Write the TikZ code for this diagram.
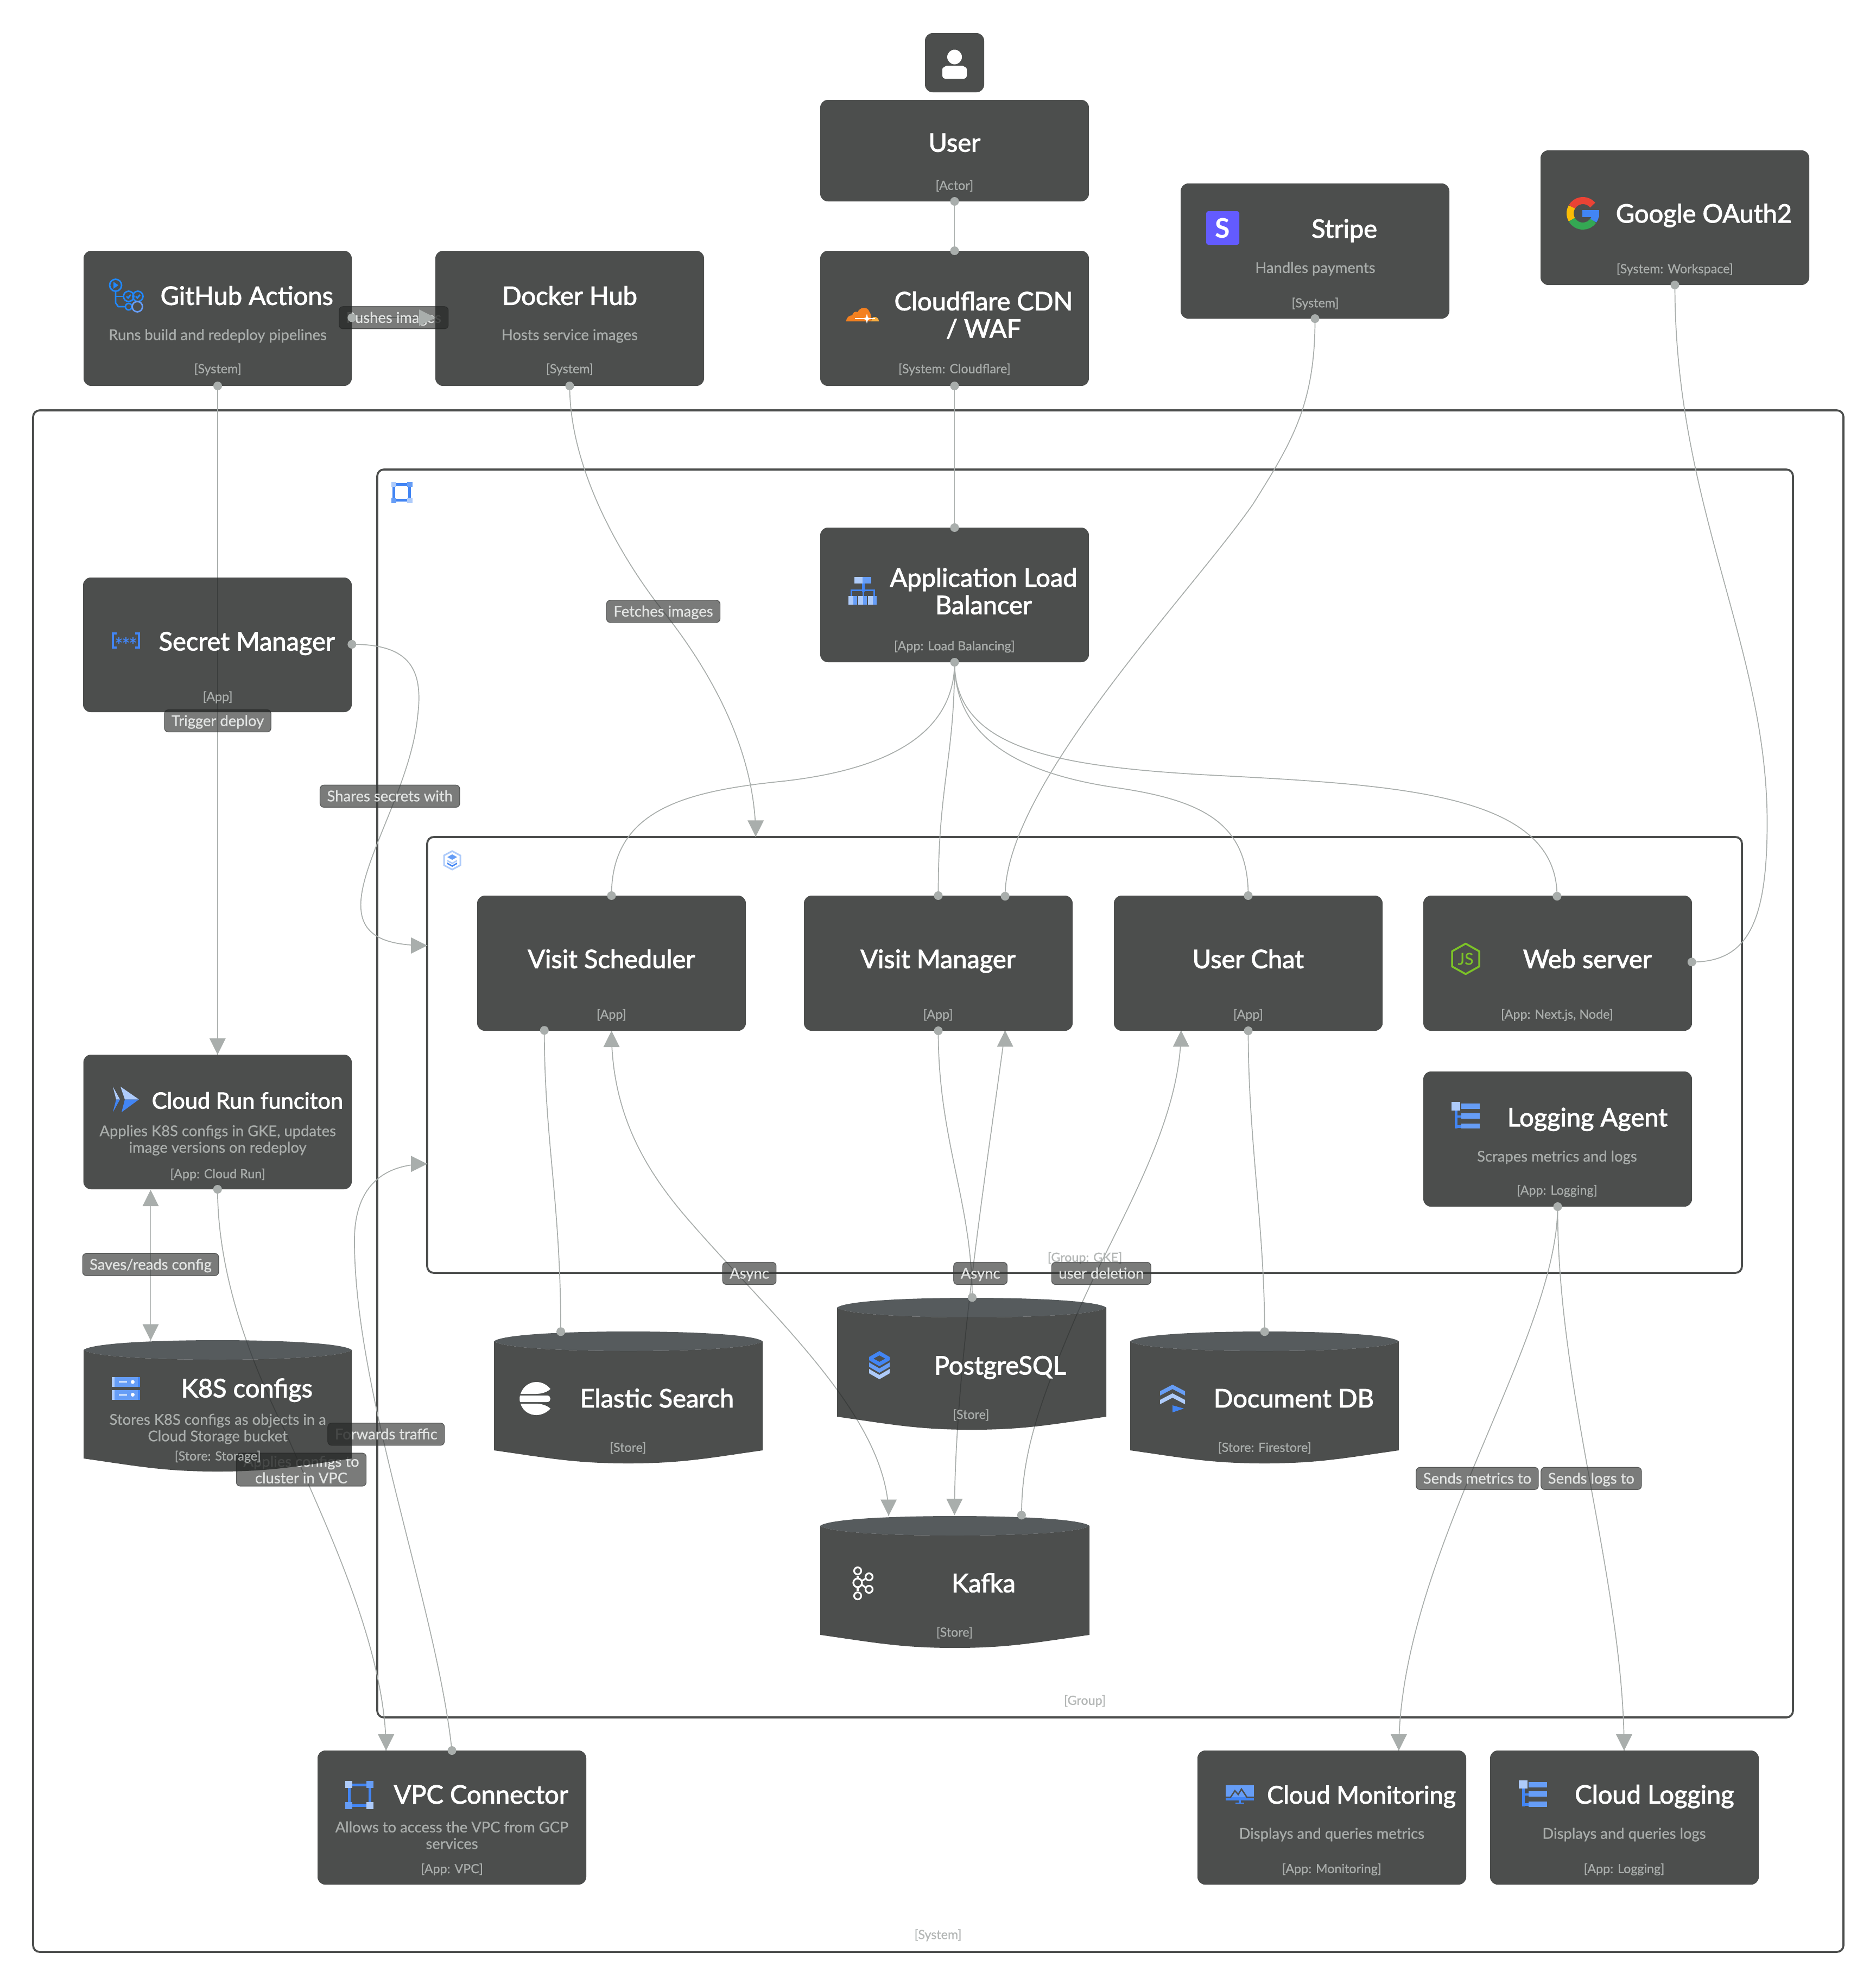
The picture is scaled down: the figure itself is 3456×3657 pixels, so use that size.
\documentclass[tikz,border=0pt]{standalone}
\usepackage{fontspec}
\setmainfont{Lato}
\newfontfamily\titlef[FakeBold=2.2]{Lato}
\newfontfamily\subf[FakeBold=0.8]{Lato}
\usetikzlibrary{calc}
\pgfdeclarelayer{groupl}\pgfdeclarelayer{under}\pgfdeclarelayer{top}\pgfsetlayers{groupl,under,main,top}
\definecolor{boxc}{HTML}{212322}
\definecolor{toptint}{HTML}{2E3336}
\definecolor{wirec}{HTML}{A9AEAC}
\definecolor{labc}{HTML}{343635}
\definecolor{labt}{HTML}{E2E4E3}
\definecolor{subc}{HTML}{A9ADAB}
\definecolor{grpt}{HTML}{B4B7B6}
\definecolor{gd}{HTML}{4285F4}
\definecolor{gm}{HTML}{669DF6}
\definecolor{gl}{HTML}{AECBFA}
\definecolor{panelc}{HTML}{4C4E4D}
\definecolor{stripep}{HTML}{635BFF}
\definecolor{ghb}{HTML}{2088FF}
\definecolor{jsg}{HTML}{7CC327}
\definecolor{cfo}{HTML}{F38020}
\definecolor{cfl}{HTML}{FAAE40}
\definecolor{gr}{HTML}{EA4335}
\definecolor{gy}{HTML}{FBBC05}
\definecolor{gg}{HTML}{34A853}
\tikzset{
 disp/.style={x=2.332pt,y=-2.332pt},
 boxn/.style={rectangle,rounded corners=14pt,fill=boxc,fill opacity=.805,inner sep=0pt,outer sep=0pt},
 cyln/.style={rectangle,inner sep=0pt,outer sep=0pt},
 grpn/.style={rectangle,rounded corners=12pt,draw=boxc,draw opacity=.805,line width=3.6pt,inner sep=0pt,outer sep=0pt},
 ttl2/.style={text=white,align=center,inner sep=0pt,font=\titlef\fontsize{47}{50.5}\selectfont},
 ttl/.style={ttl2,text height=32pt,text depth=0pt},
 dsc2/.style={text=subc,align=center,inner sep=0pt,yshift=-2pt,font=\subf\fontsize{27.4}{30.5}\selectfont},
 dsc/.style={dsc2,yshift=0.5pt,text height=20pt,text depth=6pt},
 capn/.style={text=subc,align=center,inner sep=0pt,yshift=-2pt,font=\subf\fontsize{23.3}{26}\selectfont},
 grpcap/.style={text=grpt,align=center,inner sep=0pt,yshift=-2pt,font=\subf\fontsize{23.3}{26}\selectfont},
 lab2/.style={rectangle,rounded corners=7pt,fill=labc,fill opacity=.654,draw=labc,draw opacity=.7,text opacity=1,line width=1.2pt,text=labt,align=center,inner xsep=13pt,inner ysep=5pt,minimum height=41pt,font=\subf\fontsize{27.4}{30.5}\selectfont},
 lab/.style={lab2,text height=25pt,text depth=6pt,inner ysep=4pt},
 wire/.style={draw=wirec,line width=1.7pt},
 mk/.style={fill=wirec},
}
\newcommand{\bxn}[5]{\pgfmathsetmacro\mycx{(#2+#4)/2}\pgfmathsetmacro\mycy{(#3+#5)/2}\pgfmathsetmacro\myw{#4-#2}\pgfmathsetmacro\myh{#5-#3}\node[boxn,minimum width=\myw pt,minimum height=\myh pt] (#1) at (\mycx,\mycy) {};}
\newcommand{\grpb}[5]{\pgfmathsetmacro\mycx{(#2+#4)/2}\pgfmathsetmacro\mycy{(#3+#5)/2}\pgfmathsetmacro\myw{#4-#2}\pgfmathsetmacro\myh{#5-#3}\node[grpn,minimum width=\myw pt,minimum height=\myh pt] (#1) at (\mycx,\mycy) {};}
\newcommand{\cyl}[5]{\pgfmathsetmacro\mycx{(#2+#4)/2}\pgfmathsetmacro\mycy{(#3+#5)/2}\pgfmathsetmacro\myw{#4-#2}\pgfmathsetmacro\myh{#5-#3}%
 \pgfmathsetmacro\xa{#2+.03*\myw}\pgfmathsetmacro\xb{#2+.25*\myw}\pgfmathsetmacro\xc{#4-.25*\myw}\pgfmathsetmacro\xd{#4-.03*\myw}%
 \pgfmathsetmacro\ys{#3+18}\pgfmathsetmacro\yu{#3+6}\pgfmathsetmacro\yl{#3+30}\pgfmathsetmacro\ye{#3+36}\pgfmathsetmacro\yk{#5-24}\pgfmathsetmacro\ym{#5-10}%
 \pgfmathsetmacro\xe{#2+.2*\myw}\pgfmathsetmacro\xf{\mycx-.2*\myw}\pgfmathsetmacro\xg{\mycx+.2*\myw}\pgfmathsetmacro\xh{#4-.2*\myw}%
 \node[cyln,minimum width=\myw pt,minimum height=\myh pt] (#1) at (\mycx,\mycy) {};%
 \fill[boxc,fill opacity=.805] (#2,\ys) .. controls (\xa,\yl) and (\xb,\ye) .. (\mycx,\ye) .. controls (\xc,\ye) and (\xd,\yl) .. (#4,\ys) -- (#4,\yk) .. controls (\xh,\ym) and (\xg,#5) .. (\mycx,#5) .. controls (\xf,#5) and (\xe,\ym) .. (#2,\yk) -- cycle;%
 \fill[toptint,fill opacity=.805] (#2,\ys) .. controls (\xa,\yu) and (\xb,#3) .. (\mycx,#3) .. controls (\xc,#3) and (\xd,\yu) .. (#4,\ys) .. controls (\xd,\yl) and (\xc,\ye) .. (\mycx,\ye) .. controls (\xb,\ye) and (\xa,\yl) .. cycle;}
\newcommand{\arw}[2]{\fill[mk,shift={(#1)},rotate=#2] (0pt,0pt)--(-30pt,15pt)--(-30pt,-15pt)--cycle;}
\newcommand{\dotm}[1]{\fill[mk] (#1) circle (8pt);}
\begin{document}
\begin{tikzpicture}[x=1pt,y=-1pt]
\useasboundingbox (0,0) rectangle (3456,3657);
\begin{pgfonlayer}{groupl}\fill[white] (0,0) rectangle (3456,3657);
% groups
\grpb{sys}{61}{756}{3396}{3596}
\grpb{grp}{695}{865}{3303}{3164}
\grpb{gke}{787}{1542}{3209}{2345}
\begin{scope}[disp]
\node[grpcap] (cSys) at (741,1528) {[System]};
\node[grpcap] (cGrp) at (857,1343) {[Group]};
\node[grpcap] (cGke) at (857,993) {[Group: GKE]};
\end{scope}
\end{pgfonlayer}
% boxes
\node[boxn,minimum width=109pt,minimum height=109pt] (actor) at (1758.5,115.5) {};
\bxn{user}{1511}{184}{2006}{371}
\bxn{gh}{154}{462}{648}{711}
\bxn{dock}{802}{462}{1297}{711}
\bxn{cf}{1511}{462}{2006}{711}
\bxn{stripe}{2175}{338}{2670}{587}
\bxn{goog}{2838}{277}{3333}{525}
\bxn{alb}{1511}{972}{2006}{1220}
\bxn{sec}{153}{1064}{648}{1312}
\bxn{vs}{879}{1650}{1374}{1899}
\bxn{vm}{1481}{1650}{1976}{1899}
\bxn{uc}{2052}{1650}{2547}{1899}
\bxn{web}{2622}{1650}{3117}{1899}
\bxn{la}{2622}{1974}{3117}{2223}
\bxn{run}{153.6}{1943}{648}{2191}
\cyl{k8s}{154}{2469}{648}{2711}
\cyl{es}{910}{2453}{1405}{2696}
\cyl{pg}{1542}{2391}{2038}{2634}
\cyl{doc}{2082}{2453}{2577}{2696}
\cyl{kaf}{1511}{2793}{2007}{3036}
\bxn{vpc}{585}{3225}{1080}{3472}
\bxn{mon}{2206}{3225}{2701}{3472}
\bxn{log}{2745}{3225}{3240}{3472}
% text
\begin{scope}[disp]
\node[ttl] (tUser) at (754,113) {User};
\node[capn] (cUser) at (754,146) {[Actor]};
\node[ttl] (tGh) at (195,234) {GitHub Actions};
\node[dsc] (dGh) at (172,265) {Runs build and redeploy pipelines};
\node[capn] (cGh) at (172,291) {[System]};
\node[ttl] (tDock) at (450,234) {Docker Hub};
\node[dsc] (dDock) at (450,265) {Hosts service images};
\node[capn] (cDock) at (450,291) {[System]};
\node[ttl2] (tCf) at (777,249) {Cloudflare CDN\\/ WAF};
\node[capn] (cCf) at (754,291) {[System: Cloudflare]};
\node[ttl] (tStripe) at (1062,181) {Stripe};
\node[dsc] (dStripe) at (1039,212) {Handles payments};
\node[capn] (cStripe) at (1039,239) {[System]};
\node[ttl] (tGoog) at (1346,169) {Google OAuth2};
\node[capn] (cGoog) at (1323,212) {[System: Workspace]};
\node[ttl2] (tAlb) at (777,467) {Application Load\\Balancer};
\node[capn] (cAlb) at (754,510) {[App: Load Balancing]};
\node[ttl] (tSec) at (195,507) {Secret Manager};
\node[capn] (cSec) at (172,550) {[App]};
\node[ttl] (tVs) at (483,758) {Visit Scheduler};
\node[capn] (cVs) at (483,801) {[App]};
\node[ttl] (tVm) at (741,758) {Visit Manager};
\node[capn] (cVm) at (741,801) {[App]};
\node[ttl] (tUc) at (986,758) {User Chat};
\node[capn] (cUc) at (986,801) {[App]};
\node[ttl] (tWeb) at (1254,758) {Web server};
\node[capn] (cWeb) at (1230,801) {[App: Next.js, Node]};
\node[ttl] (tLa) at (1254,883) {Logging Agent};
\node[dsc] (dLa) at (1230,914) {Scrapes metrics and logs};
\node[capn] (cLa) at (1230,940) {[App: Logging]};
\node[ttl,font=\titlef\fontsize{41.5}{45}\selectfont] (tRun) at (195.5,869) {Cloud Run funciton};
\node[dsc2] (dRun) at (172,900) {Applies K8S configs in GKE, updates\\image versions on redeploy};
\node[capn] (cRun) at (172,927) {[App: Cloud Run]};
\node[ttl] (tK8s) at (195,1097) {K8S configs};
\node[dsc2] (dK8s) at (172,1128) {Stores K8S configs as objects in a\\Cloud Storage bucket};
\node[capn] (cK8s) at (172,1150) {[Store: Storage]};
\node[ttl] (tEs) at (519,1105) {Elastic Search};
\node[capn] (cEs) at (496,1143) {[Store]};
\node[ttl] (tPg) at (790,1079) {PostgreSQL};
\node[capn] (cPg) at (767,1117) {[Store]};
\node[ttl] (tDoc) at (1022,1105) {Document DB};
\node[capn] (cDoc) at (999,1143) {[Store: Firestore]};
\node[ttl] (tKaf) at (777,1251) {Kafka};
\node[capn] (cKaf) at (754,1289) {[Store]};
\node[ttl] (tVpc) at (380,1418) {VPC Connector};
\node[dsc2] (dVpc) at (357,1449) {Allows to access the VPC from GCP\\services};
\node[capn] (cVpc) at (357,1476) {[App: VPC]};
\node[ttl,font=\titlef\fontsize{45}{50}\selectfont] (tMon) at (1075.5,1418) {Cloud Monitoring};
\node[dsc] (dMon) at (1052,1449) {Displays and queries metrics};
\node[capn] (cMon) at (1052,1476) {[App: Monitoring]};
\node[ttl] (tLog) at (1307,1418) {Cloud Logging};
\node[dsc] (dLog) at (1283,1449) {Displays and queries logs};
\node[capn] (cLog) at (1283,1476) {[App: Logging]};
% attach points
\coordinate (p2a) at (278,251);
\coordinate (p2b) at (344,251);
\coordinate (secR) at (278,509);
\coordinate (gkeL1) at (337.5,747);
\coordinate (gkeL2) at (337.5,919.5);
\coordinate (gkeT) at (597,661);
\coordinate (vmT2) at (794,708);
\coordinate (webR) at (1336.5,760);
\coordinate (webT) at (1230,708);
\coordinate (vsB) at (430,814);
\coordinate (esT) at (443,1052);
\coordinate (kafA) at (702,1197.5);
\coordinate (pgT) at (768,1025);
\coordinate (vmB2) at (794,814);
\coordinate (kafB) at (754,1197);
\coordinate (ucB1) at (933,814);
\coordinate (kafC) at (807,1197);
\coordinate (docT) at (999,1052);
\coordinate (monT) at (1105,1383);
\coordinate (logT) at (1283,1383);
\coordinate (runB2) at (119,940);
\coordinate (k8sT2) at (119,1059);
\coordinate (vpcT1) at (305,1383);
\end{scope}
% wires and labels
\begin{pgfonlayer}{under}
\begin{scope}[disp]
\draw[wire] (user.south) -- (cf.north);
\draw[wire] (p2a) -- (p2b);
\draw[wire] (gh.south) -- (run.north);
\draw[wire] (dock.south) .. controls (450,370) and (490,440) .. (524,483) .. controls (558,526) and (597,590) .. (gkeT);
\draw[wire] (cf.south) -- (alb.north);
\draw[wire] (alb.south) .. controls (754,590) and (680,610) .. (620,617) .. controls (540,625) and (483,640) .. (vs.north);
\draw[wire] (alb.south) .. controls (754,600) and (741,620) .. (vm.north);
\draw[wire] (alb.south) .. controls (754,580) and (800,610) .. (880,622) .. controls (950,632) and (986,650) .. (uc.north);
\draw[wire] (alb.south) .. controls (754,590) and (830,605) .. (950,612) .. controls (1100,620) and (1230,625) .. (webT);
\draw[wire] (stripe.south) .. controls (1039,320) and (1020,350) .. (990,398) .. controls (940,470) and (794,620) .. (vmT2);
\draw[wire] (goog.south) .. controls (1323,400) and (1396,510) .. (1396,650) .. controls (1396,730) and (1380,760) .. (webR);
\draw[wire] (secR) .. controls (320,509) and (335,525) .. (330,565) .. controls (325,620) and (285,680) .. (285,715) .. controls (285,740) and (305,747) .. (gkeL1);
\draw[wire] (vsB) .. controls (430,900) and (443,950) .. (esT);
\draw[wire] (vs.south) .. controls (483,880) and (510,925) .. (545,965) .. controls (610,1040) and (702,1120) .. (kafA);
\draw[wire] (vm.south) .. controls (741,900) and (768,950) .. (pgT);
\draw[wire] (vmB2) .. controls (780,920) and (754,1080) .. (kafB);
\draw[wire] (ucB1) .. controls (933,890) and (880,970) .. (850,1040) .. controls (820,1110) and (807,1150) .. (kafC);
\draw[wire] (uc.south) .. controls (986,900) and (999,970) .. (docT);
\draw[wire] (la.south) .. controls (1230,1060) and (1105,1230) .. (monT);
\draw[wire] (la.south) .. controls (1230,1100) and (1283,1250) .. (logT);
\draw[wire] (runB2) -- (k8sT2);
\draw[wire] (run.south) .. controls (172,1010) and (200,1080) .. (225,1130) .. controls (255,1200) and (305,1300) .. (vpcT1);
\draw[wire] (vpc.north) .. controls (345,1270) and (280,1100) .. (280,980) .. controls (280,940) and (300,919.5) .. (gkeL2);
\node[lab] (lPush) at (311,251) {Pushes images};
\node[lab] (lTrig) at (172,569.5) {Trigger deploy};
\node[lab] (lFetch) at (524,483) {Fetches images};
\node[lab] (lShare) at (308,629) {Shares secrets with};
\node[lab] (lSave) at (119,999) {Saves/reads config};
\node[lab] (lFwd) at (305,1133) {Forwards traffic};
\node[lab2] (lApply) at (238,1161) {Applies configs to\\cluster in VPC};
\node[lab] (lAs1) at (592,1006) {Async};
\node[lab] (lAs2) at (774.5,1006) {Async};
\node[lab] (lDel) at (870,1006) {user deletion};
\node[lab] (lMet) at (1167,1168) {Sends metrics to};
\node[lab] (lLogs) at (1257,1168) {Sends logs to};
\end{scope}
\end{pgfonlayer}
% markers and icons
\begin{pgfonlayer}{top}
\dotm{user.south}\dotm{cf.north}
\dotm{p2a}\arw{p2b}{0}
\dotm{gh.south}\arw{run.north}{-90}
\dotm{dock.south}\arw{gkeT}{-90}
\dotm{cf.south}\dotm{alb.north}
\dotm{alb.south}\dotm{vs.north}\dotm{vm.north}\dotm{uc.north}\dotm{webT}
\dotm{stripe.south}\dotm{vmT2}
\dotm{goog.south}\dotm{webR}
\dotm{secR}\arw{gkeL1}{0}
\dotm{vsB}\dotm{esT}
\arw{vs.south}{90}\arw{kafA}{-90}
\dotm{vm.south}\dotm{pgT}
\arw{vmB2}{90}\arw{kafB}{-90}
\arw{ucB1}{90}\dotm{kafC}
\dotm{uc.south}\dotm{docT}
\dotm{la.south}\arw{monT}{-90}\arw{logT}{-90}
\arw{runB2}{90}\arw{k8sT2}{-90}
\dotm{run.south}\arw{vpcT1}{-90}
\dotm{vpc.north}\arw{gkeL2}{0}
% actor icon
\fill[white] (1758.5,105) circle (13.5pt);
\fill[white,rounded corners=5pt] (1736,145) -- (1736,132) .. controls (1736,124) and (1745,121) .. (1749,121) -- (1768,121) .. controls (1772,121) and (1781,124) .. (1781,132) -- (1781,145) -- cycle;
% github actions icon
\begin{scope}[line width=2.8pt]
\draw[draw=ghb] (213,525.5) circle (11pt);
\fill[ghb] (209,519) -- (218,525.5) -- (209,532) -- cycle;
\draw[draw=ghb] (237,546) circle (9.5pt);
\draw[draw=ghb] (254,546) circle (9.5pt);
\draw[draw=ghb] (237,565) circle (6pt);
\draw[draw=gm] (253,565) circle (9.5pt);
\draw[draw=ghb] (213,537) -- (213,558) -- (218,565) -- (231,565);
\draw[draw=ghb] (213,546) -- (227,546);
\draw[draw=ghb] (233,546) -- (236,549) -- (241,543);
\draw[draw=ghb] (250,546) -- (253,549) -- (258,543);
\end{scope}
% cloudflare icon
\fill[cfo] (1559,592) .. controls (1559,584) and (1565,581) .. (1570,581) .. controls (1571,575) and (1576,573) .. (1580,575) .. controls (1583,567) and (1597,562) .. (1602,575) .. controls (1605,580) and (1606,585) .. (1605,592) -- cycle;
\fill[cfl] (1605,592) .. controls (1606,585) and (1608,584) .. (1612,584) .. controls (1617,584) and (1619,589) .. (1619,592) -- cycle;
\draw[white,line width=1.3pt] (1575,587) -- (1612,587);
\fill[white] (1597,578) -- (1599,585) -- (1606,587) -- (1599,589) -- (1597,596) -- (1595,589) -- (1588,587) -- (1595,585) -- cycle;
% stripe icon
\fill[stripep,rounded corners=4pt] (2222,389) rectangle (2283,451);
\node[text=white,inner sep=0pt,font=\bfseries\fontsize{50}{50}\selectfont] (iS) at (2252.5,420) {S};
% google icon
\begin{scope}[shift={(2916,393)},x=1pt,y=1pt,line width=13pt]
\draw[color=gr] (40:23.5pt) arc[start angle=40,end angle=150,radius=23.5pt];
\draw[color=gy] (150:23.5pt) arc[start angle=150,end angle=210,radius=23.5pt];
\draw[color=gg] (210:23.5pt) arc[start angle=210,end angle=325,radius=23.5pt];
\draw[color=gd] (325:23.5pt) arc[start angle=325,end angle=360,radius=23.5pt];
\fill[gd] (-1,6.5) rectangle (30,-6.5);
\end{scope}
% ALB icon
\begin{scope}[shift={(1589,1087)}]
\fill[gd] (-1.5,-12) rectangle (3.5,3);
\draw[gd,line width=3pt] (-21,11) -- (-21,0) -- (21,0) -- (21,11);
\draw[gd,line width=3pt] (1,0) -- (1,11);
\fill[gl] (-15.5,-24) rectangle (0,-12);
\fill[gm] (0,-24) rectangle (15.5,-12);
\foreach \bxx in {-26,-8,10}{\fill[gl] (\bxx,11) rectangle ++(9,16);\fill[gm] (\bxx+9,11) rectangle ++(7,16);}
\end{scope}
% secret icon
\begin{scope}[line width=4pt]
\draw[draw=gd] (215,1167) -- (208,1167) -- (208,1193) -- (215,1193);
\draw[draw=gd] (249,1167) -- (256,1167) -- (256,1193) -- (249,1193);
\end{scope}
\foreach \sx in {219,232,245}{\foreach \sa in {90,30,150}{\draw[gd,line width=1.7pt] (\sx,1180) ++(\sa:-6pt) -- ++(\sa:12pt);}}
% vpc icons
\foreach \vx/\vy/\vs in {740/907/.75,662/3307/1}{
\begin{scope}[shift={(\vx,\vy)},scale=\vs]
\draw[gd,line width=5pt] (-19,-19) rectangle (19,19);
\fill[gl] (-26,-26) rectangle (-13,-13);
\fill[gm] (13,-26) rectangle (26,-13);
\fill[gm] (-26,13) rectangle (-13,26);
\fill[gl] (13,13) rectangle (26,26);
\end{scope}}
% gke icon
\begin{scope}[shift={(833,1585)}]
\draw[gl,line width=3pt] (0,-17) -- (15,-9) -- (15,9) -- (0,17) -- (-15,9) -- (-15,-9) -- cycle;
\fill[gm] (0,-11) -- (9,-6) -- (0,-1) -- (-9,-6) -- cycle;
\fill[gl] (-9,-1) -- (0,4) -- (9,-1) -- (9,2) -- (0,7) -- (-9,2) -- cycle;
\fill[gd] (-9,4) -- (0,9) -- (9,4) -- (9,7) -- (0,12) -- (-9,7) -- cycle;
\end{scope}
% js icon
\begin{scope}[shift={(2700,1766.5)}]
\draw[jsg,line width=3.5pt,line join=round] (0,-28) -- (25,-14) -- (25,14) -- (0,28) -- (-25,14) -- (-25,-14) -- cycle;
\node[text=jsg,inner sep=0pt,font=\subf\fontsize{30}{30}\selectfont] (iJs) at (0,0) {JS};
\end{scope}
% logging icons
\foreach \lx/\ly in {2700/2054.5,2824/3304}{
\begin{scope}[shift={(\lx,\ly)}]
\fill[gd] (-20.5,-9) rectangle (-15,24);
\fill[gd] (-20.5,0) rectangle (-8,4);
\fill[gd] (-20.5,18) rectangle (-8,23);
\fill[gl] (-26,-24.5) rectangle (-10,-9);
\fill[gm] (-8,-21.5) rectangle (26,-11.5);
\fill[gm] (-8,-3.6) rectangle (26,6);
\fill[gm] (-8,15) rectangle (26,24.5);
\end{scope}}
% cloud run icon
\begin{scope}[shift={(232,2025.5)}]
\fill[gl] (-24,-23.5) -- (-11,0) -- (-18,0) -- cycle;
\fill[gd] (-11,0) -- (-24,23.5) -- (-18,0) -- cycle;
\fill[gl] (-10,-23.5) -- (24,0) -- (-2,0) -- cycle;
\fill[gd] (24,0) -- (-8,23.5) -- (-2,0) -- cycle;
\end{scope}
% storage icon
\begin{scope}[shift={(231.5,2557.5)}]
\foreach \ry in {-20.5,3}{
\fill[gm] (-26,\ry) rectangle (26,\ry+18);
\fill[gl] (-26,\ry) rectangle (-21,\ry+18);
\fill[gd] (22,\ry) rectangle (26,\ry+18);
\fill[white] (-13,\ry+8) rectangle (2,\ry+10);
\fill[white] (13,\ry+9) circle (3.5pt);}
\end{scope}
% elastic icon
\begin{scope}[shift={(986,2576)}]
\fill[white] (-27,-8) .. controls (-22,-24) and (-8,-30) .. (2,-30) .. controls (12,-30) and (22,-25) .. (28,-17) .. controls (20,-10) and (10,-8) .. (0,-8) -- cycle;
\fill[white] (-28,-5) -- (22,-5) .. controls (30,-5) and (30,7) .. (22,7) -- (-28,7) .. controls (-29,3) and (-29,-1) .. (-28,-5) -- cycle;
\fill[white] (-27,10) -- (0,10) .. controls (10,10) and (20,12) .. (28,19) .. controls (22,26) and (12,31) .. (2,31) .. controls (-8,31) and (-22,26) .. (-27,10) -- cycle;
\end{scope}
% postgres icon
\begin{scope}[shift={(1620,2515)}]
\fill[gd,even odd rule] (0,-26) -- (19,-15) -- (19,-9) -- (0,2) -- (-19,-9) -- (-19,-15) -- cycle (0,-18) -- (11,-12) -- (0,-6) -- (-11,-12) -- cycle;
\fill[gm] (-19,-5) -- (0,6) -- (19,-5) -- (19,3) -- (0,14) -- (-19,3) -- cycle;
\fill[gl] (-19,7) -- (0,18) -- (19,7) -- (19,15) -- (0,26) -- (-19,15) -- cycle;
\end{scope}
% firestore icon
\begin{scope}[shift={(2160,2576)}]
\fill[gm] (0,-25) -- (23,-13) -- (23,-5) -- (0,-17) -- (-23,-5) -- (-23,-13) -- cycle;
\fill[gl] (0,-9) -- (23,3) -- (23,11) -- (0,-1) -- (-23,11) -- (-23,3) -- cycle;
\fill[gd] (0,13) -- (21,19) -- (0,26) -- cycle;
\end{scope}
% kafka icon
\begin{scope}[shift={(1589,2916)},line width=3.2pt]
\draw[white] (-9,-13) -- (-9,-8); \draw[white] (-9,8) -- (-9,15);
\draw[white] (-2,-3) -- (6,-8); \draw[white] (-2,3) -- (6,9);
\draw[white] (-9,-22) circle (6.5pt);
\draw[white] (-9,0) circle (8pt);
\draw[white] (-9,24) circle (6.5pt);
\draw[white] (12,-11) circle (6.5pt);
\draw[white] (12,12) circle (6.5pt);
\end{scope}
% monitoring icon
\begin{scope}[shift={(2284,3306)}]
\fill[gm] (-26,-17) rectangle (26,5);
\fill[gd] (-26,5) rectangle (26,11);
\fill[gd] (-2,11) rectangle (2,15);
\fill[gd] (-8,15) rectangle (8,17);
\draw[panelc,line width=2.5pt] (-26,5) -- (-17,5) -- (-9,-7) -- (-3,0) -- (3,-10) -- (13,5) -- (26,5);
\end{scope}
\end{pgfonlayer}
\end{tikzpicture}
\end{document}
